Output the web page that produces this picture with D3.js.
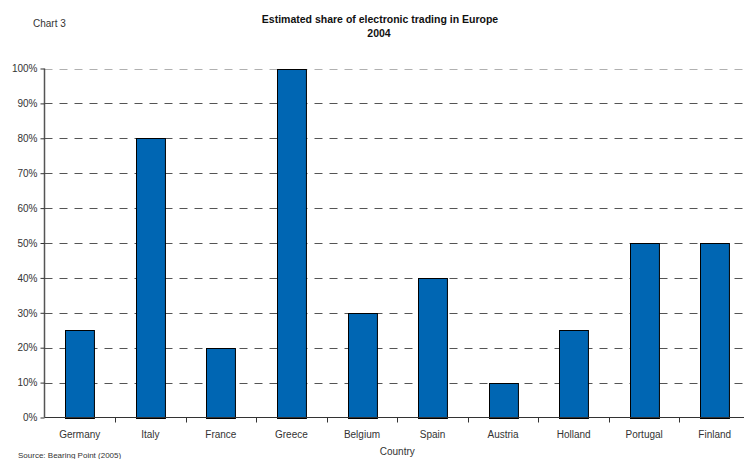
<!DOCTYPE html>
<html>
<head>
<meta charset="utf-8">
<script src="https://cdn.jsdelivr.net/npm/d3@7"></script>
<style>
    body { margin: 0; background: #fff; }
    text { font-family: "Liberation Sans", Arial, sans-serif; }
</style>
</head>
<body>
<script>
const countries = ['Germany', 'Italy', 'France', 'Greece', 'Belgium', 'Spain', 'Austria', 'Holland', 'Portugal', 'Finland'];
const shares = [25, 80, 20, 100, 30, 40, 10, 25, 50, 50];
const yTicks = [0, 10, 20, 30, 40, 50, 60, 70, 80, 90, 100];

const w = 744, h = 459;
const plotLeft = 44.5, plotRight = 750, plotTop = 68.5, plotBottom = 417.5;

const svg = d3.select('body').append('svg')
    .attr('width', w)
    .attr('height', h);

const x = d3.scaleBand().domain(countries).range([plotLeft, plotRight]).paddingInner(0.59).paddingOuter(0.295);
const y = d3.scaleLinear().domain([0, 100]).range([plotBottom, plotTop]);

// dashed grid
svg.append('g').selectAll('line').data(yTicks.filter(d => d > 0)).enter().append('line')
    .attr('x1', plotLeft).attr('x2', w)
    .attr('y1', d => Math.round(y(d)) + 0.5).attr('y2', d => Math.round(y(d)) + 0.5)
    .attr('stroke', d => d === 100 ? '#b0b0b0' : '#555')
    .attr('stroke-width', 1)
    .attr('stroke-dasharray', '8,7');

// bars
svg.append('g').selectAll('rect').data(shares).enter().append('rect')
    .attr('x', (d, i) => Math.round(x(countries[i])) + 0.5)
    .attr('y', d => Math.round(y(d)) + 0.5)
    .attr('width', x.bandwidth())
    .attr('height', d => Math.round(y(0)) - Math.round(y(d)))
    .attr('fill', '#0066b3')
    .attr('stroke', '#000')
    .attr('stroke-width', 1);

// y axis
const yAxis = svg.append('g')
    .attr('transform', `translate(${plotLeft},0)`)
    .call(d3.axisLeft(y).tickValues(yTicks).tickFormat(d => d + '%').tickSize(4).tickPadding(3));
yAxis.select('.domain').attr('stroke', '#555').attr('stroke-width', 1.5).attr('d', `M0,${plotTop}V${plotBottom}`);
yAxis.selectAll('.tick line').attr('stroke', '#333');
yAxis.selectAll('.tick text').attr('font-size', 10).attr('fill', '#333')
    .attr('font-family', '"Liberation Sans", Arial, sans-serif');

// x axis with ticks on band edges
const xAxis = svg.append('g').attr('transform', `translate(0,${plotBottom})`);
xAxis.append('line').attr('x1', plotLeft).attr('x2', w).attr('stroke', '#333').attr('stroke-width', 1.2);
const step = x.step();
const edges = d3.range(1, countries.length).map(i => plotLeft + i * step);
xAxis.selectAll('.edge').data(edges).enter().append('line')
    .attr('x1', d => Math.round(d) + 0.5).attr('x2', d => Math.round(d) + 0.5)
    .attr('y1', 0).attr('y2', 5)
    .attr('stroke', '#333');
xAxis.selectAll('text').data(countries).enter().append('text')
    .attr('x', d => x(d) + x.bandwidth() / 2)
    .attr('y', 20)
    .attr('text-anchor', 'middle')
    .attr('font-size', 10)
    .attr('fill', '#333')
    .text(d => d);

// titles
svg.append('text').attr('x', 33).attr('y', 27).attr('font-size', 10).attr('fill', '#333').text('Chart 3');
svg.append('text').attr('x', 380).attr('y', 23).attr('text-anchor', 'middle')
    .attr('font-size', 10.5).attr('font-weight', 'bold').attr('fill', '#111')
    .text('Estimated share of electronic trading in Europe');
svg.append('text').attr('x', 379).attr('y', 37).attr('text-anchor', 'middle')
    .attr('font-size', 10.5).attr('font-weight', 'bold').attr('fill', '#111')
    .text('2004');

svg.append('text').attr('x', (plotLeft + plotRight) / 2).attr('y', 455).attr('text-anchor', 'middle')
    .attr('font-size', 10).attr('fill', '#333').text('Country');
svg.append('text').attr('x', 18).attr('y', 458).attr('font-size', 8).attr('fill', '#333')
    .text('Source: Bearing Point (2005)');
</script>
</body>
</html>
